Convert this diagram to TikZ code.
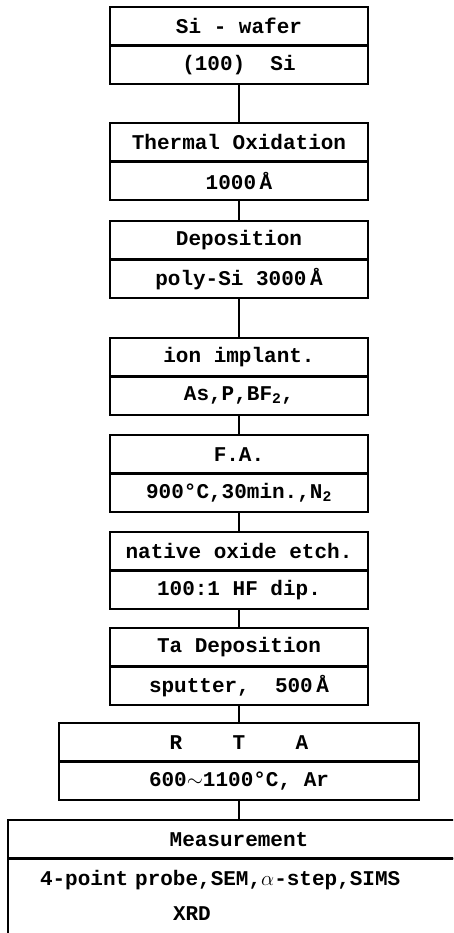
\documentclass[tikz,border=0pt]{standalone}
\usepackage{fontspec}
\newfontfamily\procfont{Liberation Mono}
\usetikzlibrary{positioning}

\tikzset{
  half/.style={draw, line width=1.2pt, outer sep=0pt, inner sep=0pt,
    minimum height=38.5pt, font=\procfont\bfseries\fontsize{21}{35}\selectfont},
  narrow/.style={half, minimum width=258pt},
  wide/.style={half, minimum width=360pt},
  divider/.style={line width=2.6pt},
  link/.style={line width=2pt},
}

\begin{document}
\begin{tikzpicture}[x=1pt, y=-1pt]
  \useasboundingbox (0,0) rectangle (453,933);
  \clip (0,0) rectangle (453,933);

  % Process steps: title row on top, conditions below
  \node[narrow, anchor=north] (wafer-t) at (239,7) {Si - wafer};
  \node[narrow, below=0pt of wafer-t] (wafer-b) {(100)~~Si};

  \node[narrow, anchor=north] (oxid-t) at (239,123) {Thermal Oxidation};
  \node[narrow, below=0pt of oxid-t] (oxid-b) {1000\,Å};

  \node[narrow, anchor=north] (depo-t) at (239,221) {Deposition};
  \node[narrow, below=0pt of depo-t] (depo-b) {poly-Si 3000\,Å};

  \node[narrow, anchor=north] (impl-t) at (239,338) {ion implant.};
  \node[narrow, below=0pt of impl-t] (impl-b) {As,P,BF\textsubscript{2},};

  \node[narrow, anchor=north] (anneal-t) at (239,435) {F.A.};
  \node[narrow, below=0pt of anneal-t] (anneal-b) {900°C,30min.,N\textsubscript{2}};

  \node[narrow, anchor=north] (etch-t) at (239,532) {native oxide etch.};
  \node[narrow, below=0pt of etch-t] (etch-b) {100:1 HF dip.};

  \node[narrow, anchor=north] (tadep-t) at (239,628) {Ta Deposition};
  \node[narrow, below=0pt of tadep-t] (tadep-b) {sputter,~~500\,Å};

  % wider boxes at the end
  \node[wide, anchor=north] (rta-t) at (239,723) {R~~~~T~~~~A};
  \node[wide, below=0pt of rta-t] (rta-b) {600$\sim$1100°C, Ar};

  \node[half, minimum width=462pt, anchor=north] (meas-t) at (239,820) {Measurement};
  \node[half, minimum width=462pt, minimum height=78pt, text width=398pt, align=left,
    below=0pt of meas-t] (meas-b) {4-point probe,SEM,$\alpha$-step,SIMS\\\phantom{4-point pro}XRD};

  % heavy rule between the two rows of each box
  \foreach \s in {wafer,oxid,depo,impl,anneal,etch,tadep,rta,meas}
    \draw[divider] (\s-t.south west) -- (\s-t.south east);

  % connectors
  \foreach \a/\b in {wafer/oxid, oxid/depo, depo/impl, impl/anneal,
                     anneal/etch, etch/tadep, tadep/rta, rta/meas}
    \draw[link] (\a-b) -- (\b-t);
\end{tikzpicture}
\end{document}
